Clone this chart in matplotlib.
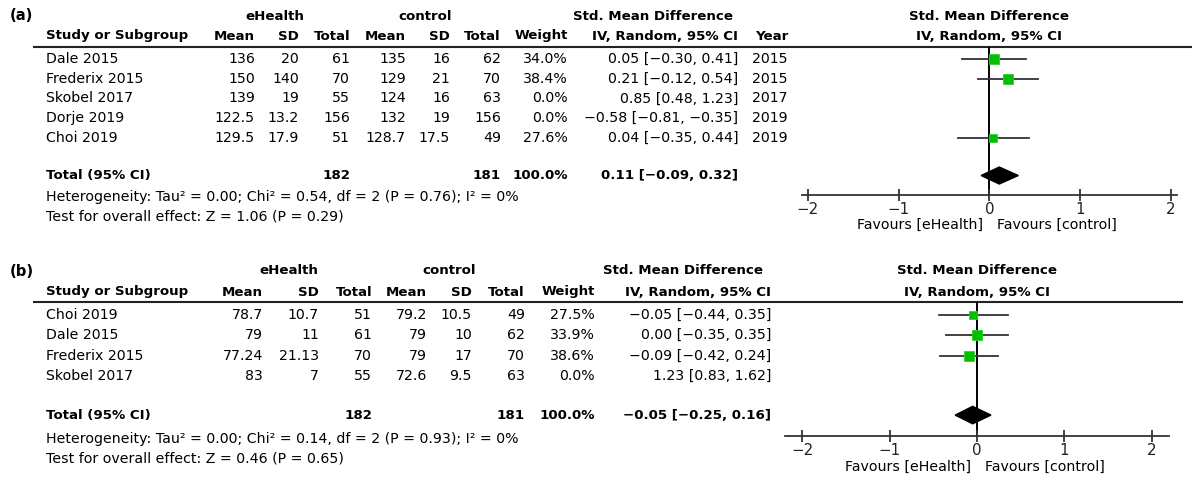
import matplotlib
matplotlib.use("Agg")
import matplotlib.pyplot as plt
from matplotlib.patches import Polygon
import numpy as np

plt.rcParams['font.family'] = ['DejaVu Sans']

# ---------------- data: panel (a) ----------------
studies_a = ["Dale 2015", "Frederix 2015", "Skobel 2017", "Dorje 2019", "Choi 2019"]
eh_mean_a = [136, 150, 139, 122.5, 129.5]
eh_sd_a = [20, 140, 19, 13.2, 17.9]
eh_n_a = [61, 70, 55, 156, 51]
ct_mean_a = [135, 129, 124, 132, 128.7]
ct_sd_a = [16, 21, 16, 19, 17.5]
ct_n_a = [62, 70, 63, 156, 49]
weight_a = [34.0, 38.4, 0.0, 0.0, 27.6]
smd_a = [0.05, 0.21, 0.85, -0.58, 0.04]
lo_a = [-0.30, -0.12, 0.48, -0.81, -0.35]
hi_a = [0.41, 0.54, 1.23, -0.35, 0.44]
year_a = [2015, 2015, 2017, 2019, 2019]
total_eh_a = 182
total_ct_a = 181
pooled_a = [0.11, -0.09, 0.32]
het_a = "Heterogeneity: Tau\u00b2 = 0.00; Chi\u00b2 = 0.54, df = 2 (P = 0.76); I\u00b2 = 0%"
test_a = "Test for overall effect: Z = 1.06 (P = 0.29)"

# ---------------- data: panel (b) ----------------
studies_b = ["Choi 2019", "Dale 2015", "Frederix 2015", "Skobel 2017"]
eh_mean_b = [78.7, 79, 77.24, 83]
eh_sd_b = [10.7, 11, 21.13, 7]
eh_n_b = [51, 61, 70, 55]
ct_mean_b = [79.2, 79, 79, 72.6]
ct_sd_b = [10.5, 10, 17, 9.5]
ct_n_b = [49, 62, 70, 63]
weight_b = [27.5, 33.9, 38.6, 0.0]
smd_b = [-0.05, 0.00, -0.09, 1.23]
lo_b = [-0.44, -0.35, -0.42, 0.83]
hi_b = [0.35, 0.35, 0.24, 1.62]
total_eh_b = 182
total_ct_b = 181
pooled_b = [-0.05, -0.25, 0.16]
het_b = "Heterogeneity: Tau\u00b2 = 0.00; Chi\u00b2 = 0.14, df = 2 (P = 0.93); I\u00b2 = 0%"
test_b = "Test for overall effect: Z = 0.46 (P = 0.65)"

x_ticks = [-2, -1, 0, 1, 2]

W, H = 1200, 484
fig = plt.figure(figsize=(W / 100, H / 100), dpi=100)
tax = fig.add_axes([0, 0, 1, 1])
tax.set_xlim(0, W)
tax.set_ylim(H, 0)
tax.axis('off')

FS = 10.2
FSB = 9.6
GREEN = '#00c000'
LINEC = '#333333'


def num(v):
    s = f"{v:g}"
    return s.replace('-', '\u2212')


def f2(v):
    return f"{v:.2f}".replace('-', '\u2212')


def ci_text(m, l, h):
    return f"{f2(m)} [{f2(l)}, {f2(h)}]"


def T(x, y, s, ha='left', bold=False, size=None):
    if size is None:
        size = FSB if bold else FS
    tax.text(x, y, s, ha=ha, va='center', fontsize=size,
             fontweight='bold' if bold else 'normal', color='black')


def panel(label, y_label, y_h2, y_line, line_right, row0, step, total_row,
          y_het, y_test, y_fav, cols, grp_centers, smd_center, forest_box, xlim,
          studies, em, es, en, cm, cs, cn, wt, smd, lo, hi, years,
          tot_e, tot_c, pooled, het, test):
    left = 46
    T(10, y_label, label, bold=True, size=FSB + 1.0)
    T(grp_centers[0], y_label, "eHealth", ha='center', bold=True)
    T(grp_centers[1], y_label, "control", ha='center', bold=True)
    T(smd_center, y_label, "Std. Mean Difference", ha='center', bold=True)
    heads = ["Mean", "SD", "Total", "Mean", "SD", "Total", "Weight", "IV, Random, 95% CI"]
    if years is not None:
        heads = heads + ["Year"]
    T(left, y_h2, "Study or Subgroup", bold=True)
    for c, h in zip(cols, heads):
        T(c, y_h2, h, ha='right', bold=True)
    tax.plot([33, line_right], [y_line, y_line], color='#222222', lw=1.5,
             solid_capstyle='butt')
    for i, st in enumerate(studies):
        y = row0 + step * i
        vals = [num(em[i]), num(es[i]), str(en[i]), num(cm[i]), num(cs[i]),
                str(cn[i]), f"{wt[i]:.1f}%", ci_text(smd[i], lo[i], hi[i])]
        if years is not None:
            vals.append(str(years[i]))
        T(left, y, st)
        for c, v in zip(cols, vals):
            T(c, y, v, ha='right')
    yt = row0 + step * total_row
    T(left, yt, "Total (95% CI)", bold=True)
    T(cols[2], yt, str(tot_e), ha='right', bold=True)
    T(cols[5], yt, str(tot_c), ha='right', bold=True)
    T(cols[6], yt, "100.0%", ha='right', bold=True)
    T(cols[7], yt, ci_text(*pooled), ha='right', bold=True)
    T(left, y_het, het)
    T(left, y_test, test)

    # forest axes
    fx0, fx1, fy0, fy1 = forest_box  # pixels: left, right, top, bottom
    ax = fig.add_axes([fx0 / W, 1 - fy1 / H, (fx1 - fx0) / W, (fy1 - fy0) / H])
    ax.set_xlim(*xlim)
    ax.set_ylim((fy1 - row0) / step, (fy0 - row0) / step)
    ax.patch.set_alpha(0)
    for sp in ['top', 'left', 'right']:
        ax.spines[sp].set_visible(False)
    ax.spines['bottom'].set_color(LINEC)
    ax.spines['bottom'].set_linewidth(1.3)
    ax.set_yticks([])
    ax.set_xticks(x_ticks)
    ax.set_xticklabels([num(t) for t in x_ticks], fontsize=FS + 0.6, color='#222222')
    ax.tick_params(axis='x', direction='inout', length=8, width=1.3, color=LINEC, pad=1)
    ax.axvline(0, color='black', lw=1.4, zorder=1)
    xc = fx0 + (0 - xlim[0]) / (xlim[1] - xlim[0]) * (fx1 - fx0)
    T(xc, y_label, "Std. Mean Difference", ha='center', bold=True)
    T(xc, y_h2, "IV, Random, 95% CI", ha='center', bold=True)
    T(xc - 6, y_fav, "Favours [eHealth]", ha='right')
    T(xc + 8, y_fav, "Favours [control]", ha='left')
    for i in range(len(studies)):
        if wt[i] <= 0:
            continue
        ax.plot([lo[i], hi[i]], [i, i], color=LINEC, lw=1.3, zorder=2)
        ax.plot([smd[i]], [i], marker='s', ms=1.18 * np.sqrt(wt[i]),
                mfc=GREEN, mec='#30d030', mew=0.6, zorder=3)
    m, l, h = pooled
    hh = 0.43
    ax.add_patch(Polygon([[l, total_row], [m, total_row - hh], [h, total_row],
                          [m, total_row + hh]], closed=True, color='black', zorder=3))
    return ax


panel("(a)", 16, 36, 47, 1192, 59, 19.75, 5.9, 197, 217, 225,
      [255, 299, 350, 406, 450, 501, 568, 738, 788],
      [275, 425], 653, (802, 1177, 47, 195), (-2.066, 2.07),
      studies_a, eh_mean_a, eh_sd_a, eh_n_a, ct_mean_a, ct_sd_a, ct_n_a,
      weight_a, smd_a, lo_a, hi_a, year_a, total_eh_a, total_ct_a, pooled_a,
      het_a, test_a)

panel("(b)", 271, 292, 302, 1183, 315, 20.3, 4.93, 439, 458, 467,
      [263, 319, 372, 427, 472, 525, 595, 771],
      [289, 449], 683, (785, 1169, 302, 436), (-2.2, 2.2),
      studies_b, eh_mean_b, eh_sd_b, eh_n_b, ct_mean_b, ct_sd_b, ct_n_b,
      weight_b, smd_b, lo_b, hi_b, None, total_eh_b, total_ct_b, pooled_b,
      het_b, test_b)

fig.savefig("out.png", dpi=100)
